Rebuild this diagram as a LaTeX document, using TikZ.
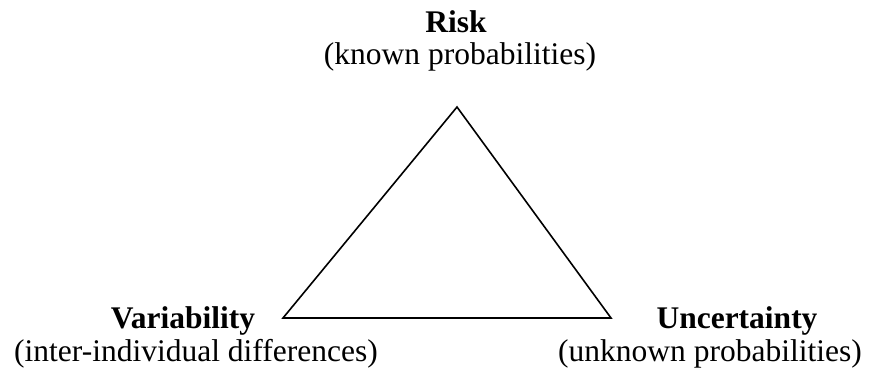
\documentclass[tikz,border=0pt]{standalone}
\usepackage{fontspec}
\setmainfont{Liberation Serif}
\begin{document}
\begin{tikzpicture}[x=1pt,y=-1pt,
  label/.style={anchor=base,inner sep=0pt,font=\fontsize{31.5}{34}\selectfont},
  title/.style={label,font=\fontsize{31.5}{34}\selectfont\bfseries},
  edge/.style={line width=1.6pt,line join=miter}]
  \useasboundingbox (0,0) rectangle (869,371);
  % corners of the triangle
  \coordinate (top) at (457,107);
  \coordinate (left) at (283,318);
  \coordinate (right) at (611,318);
  \draw[edge] (top) -- (left) -- (right) -- cycle;
  % labels
  \node[title] (risk) at (456,33) {Risk};
  \node[label] (riskdesc) at (460,65) {(known probabilities)};
  \node[title] (var) at (183,328) {Variability};
  \node[label] (vardesc) at (196,361) {(inter-individual differences)};
  \node[title] (unc) at (737,328) {Uncertainty};
  \node[label] (uncdesc) at (710,361) {(unknown probabilities)};
\end{tikzpicture}
\end{document}
